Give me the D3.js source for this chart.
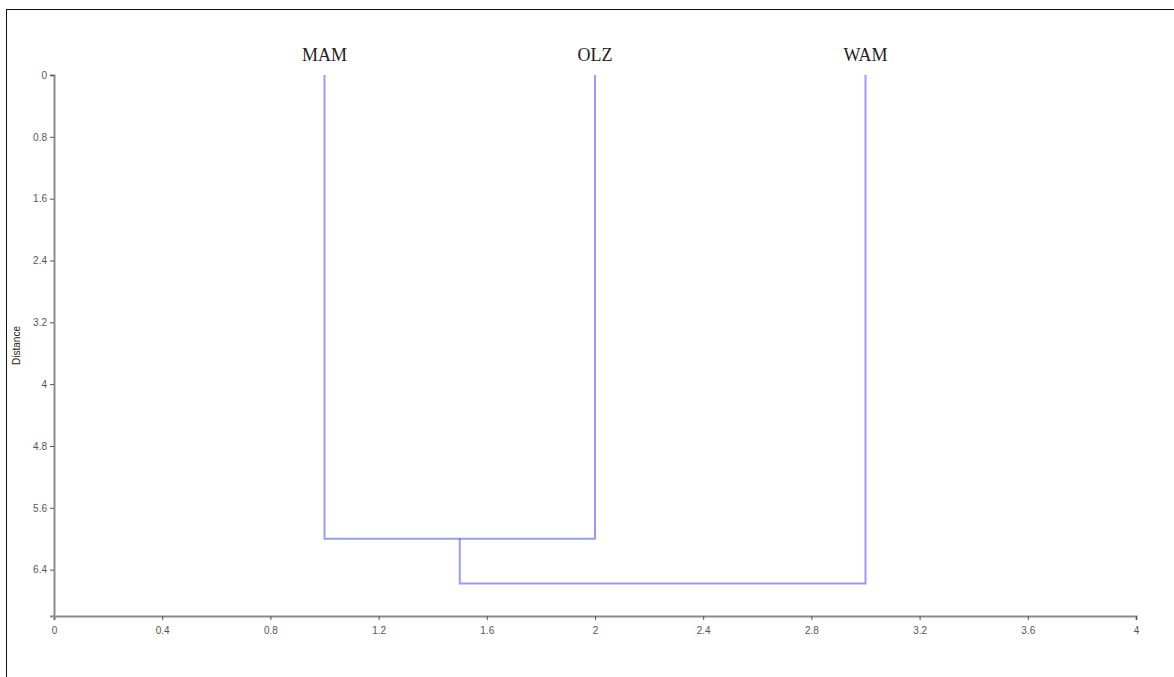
<!DOCTYPE html>
<html>
<head>
<meta charset="utf-8">
<script src="https://cdn.jsdelivr.net/npm/d3@7"></script>
<style>
  html, body { margin: 0; padding: 0; background: #fff; overflow: hidden; }
  svg { display: block; }
</style>
</head>
<body>
<svg id="chart" width="1174" height="677"></svg>
<script>
// Dendrogram: leaves and the merges that join them
const leafNames = ["MAM", "OLZ", "WAM"];
const leafPositions = [1, 2, 3];
const leafHeights = [0, 0, 0];
// Each merge joins two nodes (leaf indices 0..2, merges continue from 3)
const mergePairs = [[0, 1], [3, 2]];
const mergeHeights = [6.0, 6.58];

const xTicks = [0, 0.4, 0.8, 1.2, 1.6, 2, 2.4, 2.8, 3.2, 3.6, 4];
const yTicks = [0, 0.8, 1.6, 2.4, 3.2, 4, 4.8, 5.6, 6.4];
const xDomain = [0, 4];
const yDomain = [0, 7];

const svg = d3.select("#chart");

// Frame around the drawing area
svg.append("rect")
  .attr("x", 6.5).attr("y", 9.5)
  .attr("width", 1400).attr("height", 900)
  .attr("fill", "none").attr("stroke", "#111").attr("stroke-width", 1);

const x = d3.scaleLinear().domain(xDomain).range([54, 1136]);
const y = d3.scaleLinear().domain(yDomain).range([75, 616]);

// Axes
const xAxis = svg.append("g")
  .attr("transform", `translate(0,${y(yDomain[1])})`)
  .call(d3.axisBottom(x).tickValues(xTicks).tickSize(4).tickFormat(d3.format("~g")));
const yAxis = svg.append("g")
  .attr("transform", `translate(${x(xDomain[0])},0)`)
  .call(d3.axisLeft(y).tickValues(yTicks).tickSize(4).tickFormat(d3.format("~g")));

[xAxis, yAxis].forEach(g => {
  g.select(".domain").attr("stroke", "#8c8c8c").attr("stroke-width", 2);
  g.selectAll(".tick line").attr("stroke", "#555").attr("stroke-width", 1);
  g.selectAll(".tick text")
    .attr("fill", "#555")
    .style("font-family", "'Liberation Sans', Arial, sans-serif")
    .style("font-size", "10px");
});
xAxis.selectAll(".tick text").attr("dy", "1.1em");

svg.append("text")
  .attr("transform", `translate(20,${(y(0) + y(yDomain[1])) / 2}) rotate(-90)`)
  .attr("text-anchor", "middle")
  .style("font-family", "'Liberation Sans', Arial, sans-serif")
  .style("font-size", "10px")
  .attr("fill", "#222")
  .text("Distance");

// Node table: leaves first, merges appended in order
const nodes = leafNames.map((name, i) => ({ name, pos: leafPositions[i], h: leafHeights[i] }));
mergePairs.forEach((pair, i) => {
  const a = nodes[pair[0]], b = nodes[pair[1]];
  nodes.push({ pos: (a.pos + b.pos) / 2, h: mergeHeights[i], children: [a, b] });
});

const linkG = svg.append("g")
  .attr("fill", "none")
  .attr("stroke", "#0000ff")
  .attr("stroke-opacity", 0.4)
  .attr("stroke-width", 2);

nodes.filter(n => n.children).forEach(n => {
  const [a, b] = n.children;
  const p = d3.path();
  p.moveTo(x(a.pos), y(a.h));
  p.lineTo(x(a.pos), y(n.h));
  p.lineTo(x(b.pos), y(n.h));
  p.lineTo(x(b.pos), y(b.h));
  linkG.append("path").attr("d", p.toString());
});

// Leaf labels above the leaves
svg.append("g").selectAll("text")
  .data(nodes.filter(n => !n.children))
  .join("text")
  .attr("x", d => x(d.pos))
  .attr("y", d => y(d.h) - 14)
  .attr("text-anchor", "middle")
  .style("font-family", "'Liberation Serif', 'Times New Roman', serif")
  .style("font-size", "18px")
  .attr("fill", "#222")
  .text(d => d.name);
</script>
</body>
</html>
